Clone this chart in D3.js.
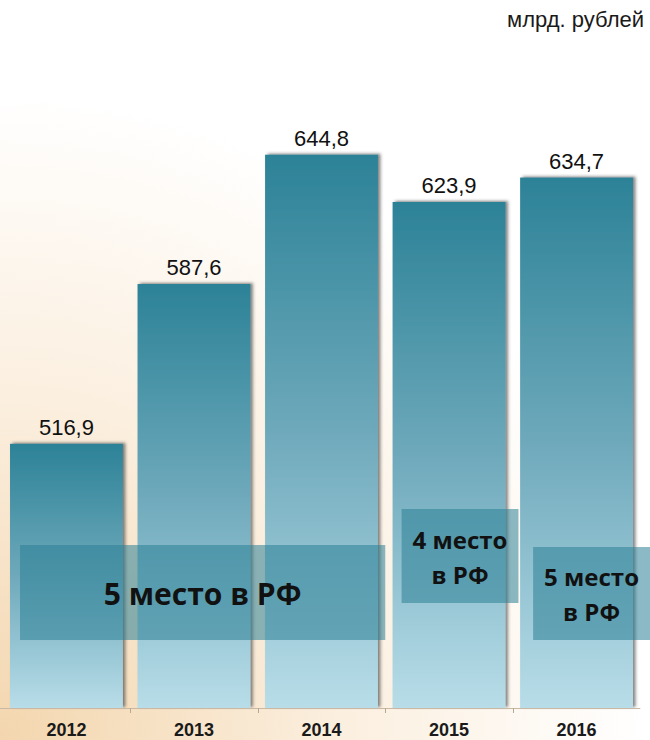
<!DOCTYPE html>
<html>
<head>
<meta charset="utf-8">
<script src="https://cdn.jsdelivr.net/npm/d3@7"></script>
<style>
	html, body { margin: 0; padding: 0; background: #fff; }
	svg { display: block; }
</style>
</head>
<body>
<div id="chart"></div>
<script>
// Data
const years = [ '2012', '2013', '2014', '2015', '2016' ];
const values = [ 516.9, 587.6, 644.8, 623.9, 634.7 ];
const unitLabel = 'млрд. рублей';
const rankLines = [
	[ '5 место в РФ' ],
	[ '4 место', 'в РФ' ],
	[ '5 место', 'в РФ' ],
];

const width = 650;
const height = 740;
const baseline = 708;

const svg = d3.select( '#chart' )
	.append( 'svg' )
	.attr( 'width', width )
	.attr( 'height', height );

const defs = svg.append( 'defs' );

// warm background
const bg = defs.append( 'radialGradient' )
	.attr( 'id', 'bg' )
	.attr( 'gradientUnits', 'userSpaceOnUse' )
	.attr( 'cx', 0 ).attr( 'cy', 740 ).attr( 'r', 760 );
bg.append( 'stop' ).attr( 'offset', '0%' ).attr( 'stop-color', '#f3d6ae' );
bg.append( 'stop' ).attr( 'offset', '45%' ).attr( 'stop-color', '#fbefdf' );
bg.append( 'stop' ).attr( 'offset', '85%' ).attr( 'stop-color', '#ffffff' );

const barGrad = defs.append( 'linearGradient' )
	.attr( 'id', 'bar' )
	.attr( 'x1', 0 ).attr( 'y1', 0 ).attr( 'x2', 0 ).attr( 'y2', 1 );
barGrad.append( 'stop' ).attr( 'offset', '0%' ).attr( 'stop-color', '#2c8297' );
barGrad.append( 'stop' ).attr( 'offset', '50%' ).attr( 'stop-color', '#6ea9bb' );
barGrad.append( 'stop' ).attr( 'offset', '100%' ).attr( 'stop-color', '#b8dde8' );

const shadow = defs.append( 'filter' )
	.attr( 'id', 'shadow' )
	.attr( 'x', '-10%' ).attr( 'y', '-10%' )
	.attr( 'width', '120%' ).attr( 'height', '120%' );
shadow.append( 'feDropShadow' )
	.attr( 'dx', 2.5 ).attr( 'dy', -1 )
	.attr( 'stdDeviation', 1.5 )
	.attr( 'flood-color', '#333' )
	.attr( 'flood-opacity', 0.6 );

svg.append( 'rect' )
	.attr( 'width', width )
	.attr( 'height', height )
	.attr( 'fill', 'url(#bg)' );

// Scales
const x = d3.scaleBand()
	.domain( years )
	.range( [ 3, 640 ] )
	.paddingInner( 0.115 )
	.paddingOuter( 0.055 );

const y = d3.scaleLinear()
	.domain( [ 400, 700 ] )
	.range( [ baseline, baseline - 300 * 2.26 ] );

const step = x.step();
const half = x.paddingInner() * step / 2;

// Bars
svg.selectAll( 'rect.bar' )
	.data( values )
	.enter()
	.append( 'rect' )
	.attr( 'class', 'bar' )
	.attr( 'x', ( d, i ) => x( years[ i ] ) )
	.attr( 'y', ( d ) => y( d ) )
	.attr( 'width', x.bandwidth() )
	.attr( 'height', ( d ) => baseline - y( d ) )
	.attr( 'fill', 'url(#bar)' )
	.attr( 'filter', 'url(#shadow)' );

// Value labels
const fmt = d3.format( '.1f' );
svg.selectAll( 'text.value' )
	.data( values )
	.enter()
	.append( 'text' )
	.attr( 'class', 'value' )
	.attr( 'x', ( d, i ) => x( years[ i ] ) + x.bandwidth() / 2 )
	.attr( 'y', ( d ) => y( d ) - 9 )
	.attr( 'text-anchor', 'middle' )
	.style( 'font-family', 'Liberation Sans, Arial, sans-serif' )
	.style( 'font-size', '22px' )
	.style( 'fill', '#111' )
	.text( ( d ) => fmt( d ).replace( '.', ',' ) );

// Axis
const axis = svg.append( 'g' );
axis.append( 'line' )
	.attr( 'x1', x( years[ 0 ] ) - half - 4 )
	.attr( 'x2', x( years[ years.length - 1 ] ) + x.bandwidth() + half )
	.attr( 'y1', baseline + 0.5 )
	.attr( 'y2', baseline + 0.5 )
	.attr( 'stroke', '#c9b9a4' )
	.attr( 'stroke-width', 1 );

axis.selectAll( 'line.tick' )
	.data( years.slice( 1 ) )
	.enter()
	.append( 'line' )
	.attr( 'class', 'tick' )
	.attr( 'x1', ( d ) => Math.round( x( d ) - half ) + 0.5 )
	.attr( 'x2', ( d ) => Math.round( x( d ) - half ) + 0.5 )
	.attr( 'y1', baseline )
	.attr( 'y2', baseline + 5 )
	.attr( 'stroke', '#b8a890' );

axis.selectAll( 'text' )
	.data( years )
	.enter()
	.append( 'text' )
	.attr( 'x', ( d ) => x( d ) + x.bandwidth() / 2 )
	.attr( 'y', baseline + 28 )
	.attr( 'text-anchor', 'middle' )
	.style( 'font-family', 'Liberation Sans, Arial, sans-serif' )
	.style( 'font-size', '18px' )
	.style( 'font-weight', 'bold' )
	.style( 'fill', '#1a1a1a' )
	.text( ( d ) => d );

// Unit label
svg.append( 'text' )
	.attr( 'x', 644 )
	.attr( 'y', 27 )
	.attr( 'text-anchor', 'end' )
	.style( 'font-family', 'Liberation Sans, Arial, sans-serif' )
	.style( 'font-size', '22px' )
	.style( 'fill', '#1a1a1a' )
	.text( unitLabel );

// Rank boxes
const boxes = [
	{ x0: x( '2012' ) + 10, x1: x( '2014' ) + x.bandwidth() + half, y0: 545, y1: 640, lines: rankLines[ 0 ], size: 30, lead: 0 },
	{ x0: x( '2015' ) + 9, x1: x( '2015' ) + x.bandwidth() + 13, y0: 509, y1: 603, lines: rankLines[ 1 ], size: 24, lead: 35 },
	{ x0: x( '2016' ) + 13, x1: width, y0: 547, y1: 640, lines: rankLines[ 2 ], size: 24, lead: 35 },
];

const boxG = svg.selectAll( 'g.rank' )
	.data( boxes )
	.enter()
	.append( 'g' )
	.attr( 'class', 'rank' );

boxG.append( 'rect' )
	.attr( 'x', ( d ) => d.x0 )
	.attr( 'y', ( d ) => d.y0 )
	.attr( 'width', ( d ) => d.x1 - d.x0 )
	.attr( 'height', ( d ) => d.y1 - d.y0 )
	.attr( 'fill', '#2c7f95' )
	.attr( 'fill-opacity', 0.55 );

boxG.each( function( d ) {
	const cx = ( d.x0 + d.x1 ) / 2;
	const cy = ( d.y0 + d.y1 ) / 2;
	const top = cy - ( ( d.lines.length - 1 ) * d.lead ) / 2;
	d3.select( this ).selectAll( 'text' )
		.data( d.lines )
		.enter()
		.append( 'text' )
		.attr( 'x', cx )
		.attr( 'y', ( t, i ) => top + i * d.lead )
		.attr( 'dy', '0.42em' )
		.attr( 'text-anchor', 'middle' )
		.style( 'font-family', 'Open Sans, Noto Sans, sans-serif' )
		.style( 'font-size', d.size + 'px' )
		.style( 'font-weight', 'bold' )
		.style( 'fill', '#111' )
		.text( ( t ) => t );
} );
</script>
</body>
</html>
